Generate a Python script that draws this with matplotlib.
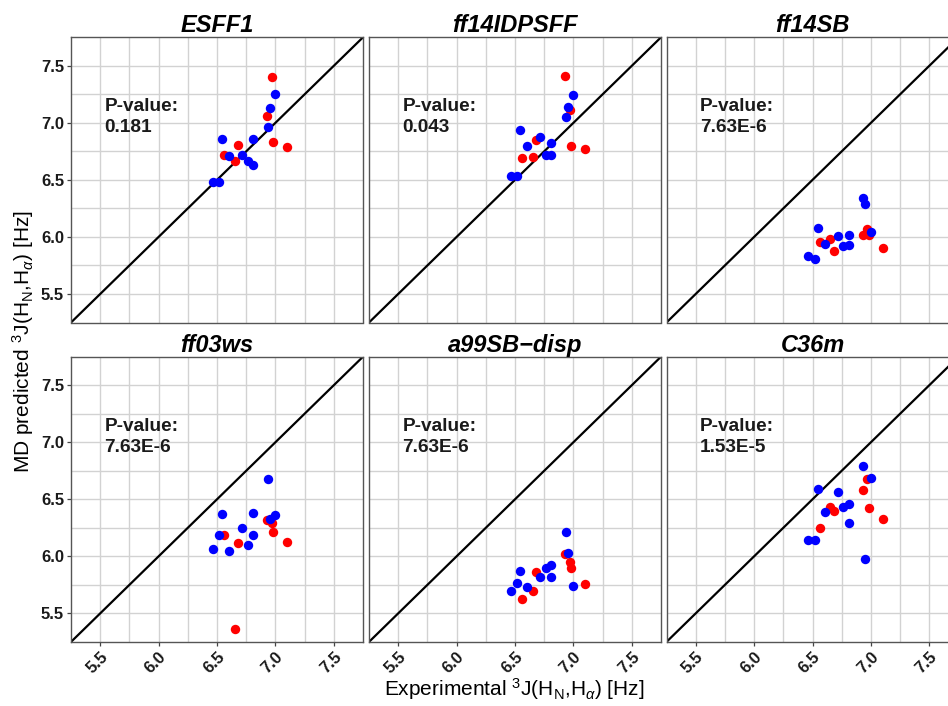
import numpy as np
import matplotlib.pyplot as plt

plt.rcParams['font.family'] = ['Liberation Sans', 'DejaVu Sans']
plt.rcParams['mathtext.fontset'] = 'custom'
plt.rcParams['mathtext.rm'] = 'Liberation Sans'
plt.rcParams['mathtext.it'] = 'Liberation Sans:italic'

# experimental couplings (same for every force field)
red_x  = [6.93, 6.97, 6.98, 7.10, 6.68, 6.56, 6.65]
blue_x = [7.00, 6.95, 6.935, 6.545, 6.605, 6.715, 6.81, 6.765, 6.81, 6.465, 6.52]

titles = ['ESFF1', 'ff14IDPSFF', 'ff14SB', 'ff03ws', 'a99SB\u2212disp', 'C36m']
pvals  = ['0.181', '0.043', '7.63E-6', '7.63E-6', '7.63E-6', '1.53E-5']

# MD predicted values per force field
red_y = [
    [7.06, 7.40, 6.83, 6.79, 6.81, 6.72, 6.67],
    [7.41, 7.11, 6.80, 6.77, 6.85, 6.69, 6.70],
    [6.02, 6.07, 6.02, 5.90, 5.88, 5.96, 5.98],
    [6.32, 6.29, 6.21, 6.13, 6.12, 6.19, 5.36],
    [6.02, 5.95, 5.90, 5.76, 5.86, 5.63, 5.70],
    [6.58, 6.68, 6.42, 6.33, 6.40, 6.25, 6.43],
]
blue_y = [
    [7.25, 7.13, 6.96, 6.86, 6.71, 6.72, 6.86, 6.67, 6.63, 6.48, 6.48],
    [7.24, 7.14, 7.05, 6.94, 6.80, 6.88, 6.82, 6.72, 6.72, 6.53, 6.53],
    [6.04, 6.29, 6.34, 6.08, 5.94, 6.01, 6.02, 5.92, 5.925, 5.83, 5.81],
    [6.36, 6.33, 6.68, 6.37, 6.05, 6.25, 6.38, 6.10, 6.19, 6.06, 6.19],
    [5.74, 6.03, 6.21, 5.87, 5.73, 5.82, 5.92, 5.90, 5.82, 5.70, 5.77],
    [6.69, 5.98, 6.79, 6.59, 6.39, 6.56, 6.46, 6.43, 6.29, 6.14, 6.14],
]

lims = (5.25, 7.75)
ticks = [5.5, 6.0, 6.5, 7.0, 7.5]
minor = [5.75, 6.25, 6.75, 7.25]

W, H = 948, 706
fig = plt.figure(figsize=(W/100, H/100), dpi=100)

lefts = [71, 369, 666.5]
tops = [37.3, 356.7]
pw, ph = 292, 285.2

for i in range(6):
    r, c = divmod(i, 3)
    ax = fig.add_axes([lefts[c]/W, 1 - (tops[r] + ph)/H, pw/W, ph/H])
    ax.set_xlim(lims)
    ax.set_ylim(lims)
    ax.set_xticks(ticks)
    ax.set_yticks(ticks)
    ax.set_xticks(minor, minor=True)
    ax.set_yticks(minor, minor=True)
    ax.grid(True, which='both', color='#d2d2d2', linewidth=1.0)
    ax.set_axisbelow(True)
    ax.tick_params(which='minor', length=0)
    ax.tick_params(which='major', length=3, width=0.9, color='#444444',
                   labelsize=12, labelcolor='#1a1a1a', pad=2)
    for s in ax.spines.values():
        s.set_color('#555555')
        s.set_linewidth(1.0)

    ax.plot(lims, lims, color='black', linewidth=1.6, zorder=2)
    ax.scatter(red_x, red_y[i], s=46, color='#ff0000', linewidths=0, zorder=3)
    ax.scatter(blue_x, blue_y[i], s=46, color='#0000ff', linewidths=0, zorder=4)

    ax.text(5.535, 7.05, 'P-value:\n' + pvals[i], fontsize=13.7, fontweight='bold',
            ha='left', va='center', linespacing=1.3, color='#1a1a1a')
    ax.set_title(titles[i], fontsize=17, fontweight='bold', style='italic', pad=3)

    if c == 0:
        for lab in ax.get_yticklabels():
            lab.set_fontweight('bold')
    else:
        ax.tick_params(axis='y', length=0, labelleft=False)
    if r == 1:
        ax.set_xticklabels([f'{t:.1f}' for t in ticks], rotation=45, ha='right',
                           va='top', rotation_mode='anchor', fontweight='bold')
    else:
        ax.tick_params(axis='x', length=0, labelbottom=False)

fig.text(514/W, 1 - 689/H, r'Experimental $^{3}$J(H$_{\mathrm{N}}$,H$_{\alpha}$) [Hz]',
         ha='center', va='center', fontsize=15)
fig.text(23/W, 1 - 342/H, r'MD predicted $^{3}$J(H$_{\mathrm{N}}$,H$_{\alpha}$) [Hz]',
         ha='center', va='center', rotation=90, fontsize=15)

fig.savefig('out.png', dpi=100)
